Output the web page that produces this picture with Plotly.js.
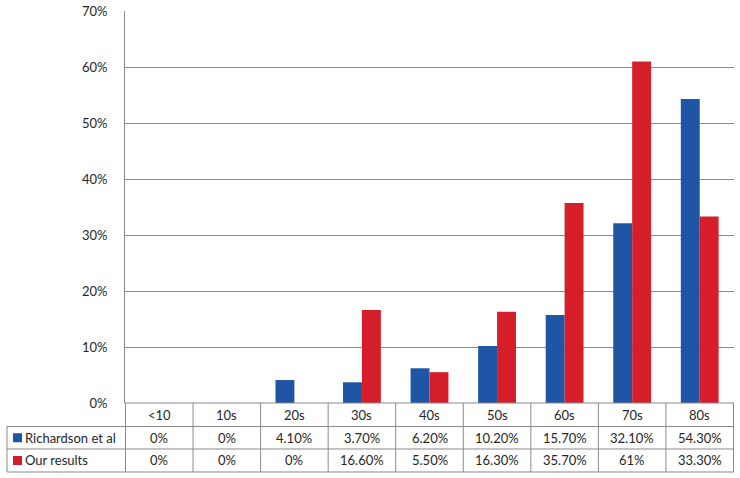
<!DOCTYPE html>
<html>
<head>
<meta charset="utf-8">
<script src="https://cdn.plot.ly/plotly-3.0.1.min.js"></script>
<style>
  html, body { margin: 0; padding: 0; background: #fff; }
  #chart { width: 740px; height: 478px; }
</style>
</head>
<body>
<div id="chart"></div>
<script>
const categories = ['<10', '10s', '20s', '30s', '40s', '50s', '60s', '70s', '80s'];
const seriesNames = ['Richardson et al', 'Our results'];
const richardson = [0, 0, 4.1, 3.7, 6.2, 10.2, 15.7, 32.1, 54.3];
const ourResults = [0, 0, 0, 16.6, 5.5, 16.3, 35.7, 61, 33.3];
const yTicks = [0, 10, 20, 30, 40, 50, 60, 70];

const BLUE = '#1f55a5';
const RED  = '#d51e29';
const LINE = '#8a8a8a';
const TEXT = '#262626';
const FONT = 'Lato, "Open Sans", sans-serif';

// Excel-style label: 4.1 -> "4.10%", 61 -> "61%"
function pct(v) {
  return Number.isInteger(v) ? v + '%' : v.toFixed(2) + '%';
}

const traces = [
  { x: categories, y: richardson.map(v => v / 100), name: seriesNames[0],
    type: 'bar', marker: { color: BLUE }, hoverinfo: 'skip' },
  { x: categories, y: ourResults.map(v => v / 100), name: seriesNames[1],
    type: 'bar', marker: { color: RED }, hoverinfo: 'skip' },
];

// data table under the plot (paper y for row edges)
const rowEdges = [0, -0.0599, -0.1173, -0.176];
const leftX = -0.1938;
const shapes = [];
const annotations = [];
const line = { color: LINE, width: 1 };

// horizontal lines
shapes.push({ type: 'line', xref: 'paper', yref: 'paper', x0: 0, x1: 1, y0: 0, y1: 0, line });
for (let r = 1; r < rowEdges.length; r++) {
  shapes.push({ type: 'line', xref: 'paper', yref: 'paper', x0: leftX, x1: 1,
    y0: rowEdges[r], y1: rowEdges[r], line });
}
// vertical lines at category boundaries
for (let i = 0; i <= categories.length; i++) {
  shapes.push({ type: 'line', xref: 'x', yref: 'paper', x0: i - 0.5, x1: i - 0.5,
    y0: rowEdges[0], y1: rowEdges[3], line });
}
shapes.push({ type: 'line', xref: 'paper', yref: 'paper', x0: leftX, x1: leftX,
  y0: rowEdges[1], y1: rowEdges[3], line });

const rows = [richardson, ourResults];
const colors = [BLUE, RED];
categories.forEach((c, i) => {
  annotations.push({ x: c, xref: 'x', yref: 'paper', y: (rowEdges[0] + rowEdges[1]) / 2,
    text: c, showarrow: false, yanchor: 'middle' });
  rows.forEach((vals, r) => {
    annotations.push({ x: c, xref: 'x', yref: 'paper', y: (rowEdges[r + 1] + rowEdges[r + 2]) / 2,
      text: pct(vals[i]), showarrow: false, yanchor: 'middle' });
  });
});
seriesNames.forEach((name, r) => {
  const yMid = (rowEdges[r + 1] + rowEdges[r + 2]) / 2;
  shapes.push({ type: 'rect', xref: 'paper', yref: 'paper',
    x0: -0.1839, x1: -0.1691, y0: yMid - 0.0115, y1: yMid + 0.0115,
    fillcolor: colors[r], line: { width: 0 } });
  annotations.push({ x: -0.1675, xref: 'paper', yref: 'paper', y: yMid, xanchor: 'left',
    text: name, showarrow: false, yanchor: 'middle' });
});

const layout = {
  width: 740, height: 478,
  margin: { l: 125, r: 6, t: 11, b: 75 },
  paper_bgcolor: '#fff', plot_bgcolor: '#fff',
  font: { family: FONT, size: 13, color: TEXT },
  showlegend: false,
  barmode: 'group', bargap: 0.44, bargroupgap: 0,
  xaxis: { type: 'category', showticklabels: false, showgrid: false, zeroline: false,
    showline: false, ticks: '', fixedrange: true },
  yaxis: { range: [0, 0.7], tickvals: yTicks.map(v => v / 100), ticktext: yTicks.map(v => v + '%'),
    showgrid: true, gridcolor: LINE, gridwidth: 1, zeroline: false,
    showline: true, linecolor: LINE, linewidth: 1, ticks: '', ticklabelstandoff: 14,
    tickfont: { size: 13, color: TEXT }, fixedrange: true },
  shapes, annotations,
};

Plotly.newPlot('chart', traces, layout, { displayModeBar: false, staticPlot: true });
</script>
</body>
</html>
